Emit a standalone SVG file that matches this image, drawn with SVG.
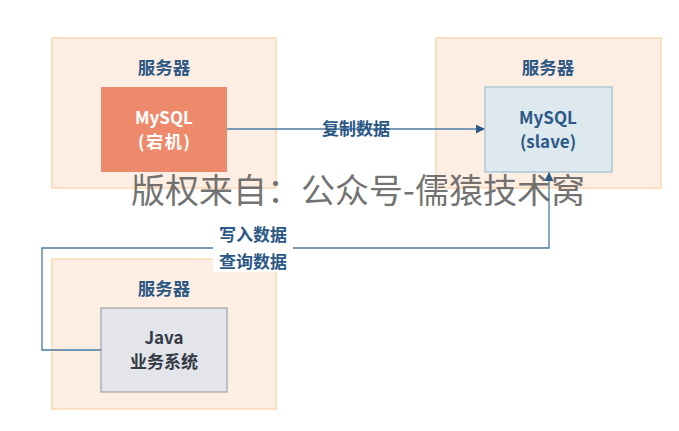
<svg xmlns="http://www.w3.org/2000/svg" width="679" height="431" viewBox="0 0 679 431">
<defs>
<style>
.server{fill:#FDEEE3;stroke:#F8D9B2;stroke-width:1.5}
.title{font-family:"Noto Sans CJK SC","Noto Sans",sans-serif;font-weight:bold;font-size:17.5px;fill:#2B5885;text-anchor:middle}
.lbl{font-family:"Noto Sans CJK SC","Noto Sans",sans-serif;font-weight:bold;font-size:17px;text-anchor:middle}
.conn{fill:none;stroke:#4A7BA3;stroke-width:1.3}
.wm{font-family:"Noto Sans CJK SC","Noto Sans",sans-serif;font-size:34px;fill:#5a5a5a;fill-opacity:0.85;text-anchor:middle}
</style>
<marker id="arr" viewBox="0 0 10 10" refX="9" refY="5" markerWidth="9" markerHeight="9" markerUnits="userSpaceOnUse" orient="auto">
<path d="M0,0 L10,5 L0,10 z" fill="#2B5885"/>
</marker>
</defs>
<rect width="679" height="431" fill="#ffffff"/>
<g id="server-master">
<rect class="server" x="52" y="38" width="224" height="150"/>
<text class="title" x="164" y="74">服务器</text>
</g>
<g id="server-slave">
<rect class="server" x="436" y="38" width="225" height="150"/>
<text class="title" x="548" y="74">服务器</text>
</g>
<g id="server-java">
<rect class="server" x="52" y="259" width="224" height="150"/>
<text class="title" x="164" y="295">服务器</text>
</g>
<g id="mysql-master">
<rect x="101" y="87" width="126" height="85" fill="#EE8A6C"/>
<text class="lbl" x="164" y="124" fill="#ffffff">MySQL</text>
<text class="lbl" x="164" y="148" fill="#ffffff" textLength="52" lengthAdjust="spacing">(宕机)</text>
</g>
<g id="mysql-slave">
<rect x="485" y="87" width="127" height="85" fill="#DDE9EF" stroke="#9FC0CF" stroke-width="1.2"/>
<text class="lbl" x="548" y="124" fill="#2B5885">MySQL</text>
<text class="lbl" x="548" y="148" fill="#2B5885">(slave)</text>
</g>
<g id="java">
<rect x="101" y="308" width="126" height="84" fill="#E3E5EA" stroke="#9EA3AB" stroke-width="1.2"/>
<text class="lbl" x="164" y="344" fill="#333a44">Java</text>
<text class="lbl" x="164" y="368" fill="#333a44">业务系统</text>
</g>
<g id="connectors">
<line class="conn" x1="227" y1="129" x2="484" y2="129" marker-end="url(#arr)"/>
<text class="lbl" x="356" y="135" fill="#2B5885">复制数据</text>
<path class="conn" d="M101,350 H42 V248 H549 V173" marker-end="url(#arr)"/>
<rect x="213" y="222" width="80" height="50" fill="#ffffff"/>
<text class="lbl" x="253" y="241" fill="#2B5885">写入数据</text>
<text class="lbl" x="253" y="268" fill="#2B5885">查询数据</text>
</g>
<text class="wm" x="358" y="203">版权来自：公众号-儒猿技术窝</text>
</svg>
